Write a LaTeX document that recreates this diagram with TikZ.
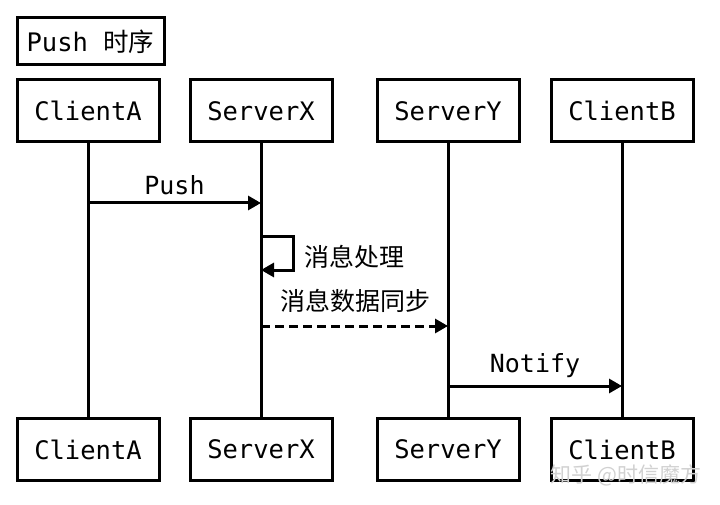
\documentclass[tikz,border=0pt]{standalone}
\usepackage{fontspec}
\setmonofont{DejaVu Sans Mono}
\newfontfamily\cjk{Noto Sans CJK SC}
\usetikzlibrary{arrows.meta}
\tikzset{
  actor/.style={draw, line width=3pt, minimum width=142pt, minimum height=62pt, inner sep=0pt, font=\fontsize{25.5}{30}\selectfont\ttfamily},
  life/.style={line width=3pt},
  msg/.style={line width=3pt, -{Triangle[length=13pt,width=14pt]}},
  lbl/.style={font=\fontsize{25}{30}\selectfont\ttfamily},
  clbl/.style={font=\fontsize{25}{30}\selectfont\cjk},
}
\begin{document}
\begin{tikzpicture}[x=1pt,y=-1pt]
\useasboundingbox[fill=white] (0,0) rectangle (720,505);
\node[actor, minimum width=147pt, minimum height=47pt] (title) at (90.5,41.5) {Push {\cjk 时序}};
\node[actor] (A) at (88,111) {ClientA};
\node[actor] (X) at (261,111) {ServerX};
\node[actor] (Y) at (448,111) {ServerY};
\node[actor] (B) at (622,111) {ClientB};
\node[actor] (A2) at (88,449.5) {ClientA};
\node[actor] (X2) at (261,449.5) {ServerX};
\node[actor] (Y2) at (448,449.5) {ServerY};
\node[actor] (B2) at (622,449.5) {ClientB};
\draw[life] (A.south) -- (A2.north);
\draw[life] (X.south) -- (X2.north);
\draw[life] (Y.south) -- (Y2.north);
\draw[life] (B.south) -- (B2.north);
% Push
\coordinate (p1) at (88,203);
\coordinate (p2) at (261,203);
\draw[msg] (p1) -- (p2) node[lbl, midway, above=3pt] {Push};
% self
\coordinate (s1) at (261,236);
\coordinate (s2) at (261,270);
\draw[msg] (s1) -- (293,236) -- (293,270) -- (s2);
\node[clbl, anchor=west] (selflbl) at (301,257) {消息处理};
% dashed sync
\coordinate (d1) at (261,326);
\coordinate (d2) at (448,326);
\draw[msg, dash pattern=on 9pt off 5pt] (d1) -- (d2);
\node[clbl] (synclbl) at (355,301) {消息数据同步};
% notify
\coordinate (n1) at (448,386);
\coordinate (n2) at (622,386);
\draw[msg] (n1) -- (n2) node[lbl, midway, above=3pt] {Notify};
% watermark
\node[font=\fontsize{21}{24}\selectfont\cjk, text=black!18] (wm) at (626,475) {知乎 @时信魔方};
\end{tikzpicture}
\end{document}
